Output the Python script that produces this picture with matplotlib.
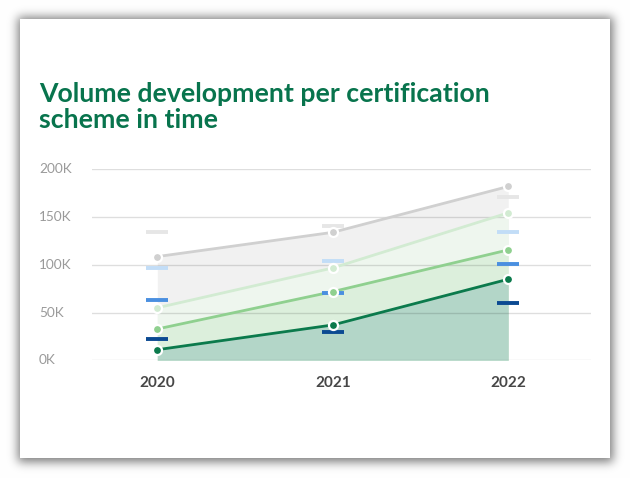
import math
import numpy as np
import matplotlib
matplotlib.use("Agg")
import matplotlib.pyplot as plt
from matplotlib import transforms
from matplotlib.patches import Rectangle

# ---------------- data ----------------
years = ["2020", "2021", "2022"]
series_gray = [108600, 134000, 182000]
series_lightgreen = [55000, 96700, 154400]
series_midgreen = [32800, 71900, 115600]
series_darkgreen = [11100, 37000, 84900]

marker_gray = [134000, 140400, 170900]
marker_lightblue = [96700, 103800, 134000]
marker_blue = [63500, 70200, 100600]
marker_darkblue = [22600, 29300, 59700]

y_ticks = [0, 50000, 100000, 150000, 200000]
y_tick_labels = ["0K", "50K", "100K", "150K", "200K"]
title = "Volume development per certification\nscheme in time"

# ---------------- figure ----------------
W, H = 630, 478
fig = plt.figure(figsize=(W / 100, H / 100), dpi=100)
fig.patch.set_facecolor("white")

# drop shadow of the card
bg = fig.add_axes([0, 0, 1, 1], zorder=-10)
bg.set_axis_off()
erf = np.vectorize(math.erf)
xs = np.arange(W) + 0.5
ys = np.arange(H) + 0.5
sig = 7.0
fx = 0.5 * (erf((xs - 18) / sig) - erf((xs - 613) / sig))
fy = 0.5 * (erf((ys - 17) / sig) - erf((ys - 462) / sig))
dark = 0.52 * np.outer(fy, fx)
img = np.dstack([1 - dark] * 3)
bg.imshow(img, extent=[0, W, H, 0], aspect="auto", interpolation="bilinear")
bg.set_xlim(0, W)
bg.set_ylim(H, 0)
bg.add_patch(Rectangle((20, 19), 590, 439, facecolor="white", edgecolor="none", zorder=5))

# title (baseline of last line)
fig.text(39 / W, 1 - 128 / H, title, ha="left", va="baseline", family="Lato",
         fontweight="bold", fontsize=19.2, color="#08744d", linespacing=1.08)

# chart axes
x0, x1 = 91.7, 590.7
yb, yt = 360.3, 169.3
ax = fig.add_axes([x0 / W, 1 - yb / H, (x1 - x0) / W, (yb - yt) / H])
ax.patch.set_alpha(0)
x = np.arange(len(years))
ax.set_xlim(-0.374, 2.47)
ax.set_ylim(0, 200000)

area_cols = ["#f1f1f1", "#eef6ee", "#dcefdc", "#b3d6c8"]
line_cols = ["#d0d0d0", "#d2ebd2", "#8fd08f", "#0b7a4c"]
series = [series_gray, series_lightgreen, series_midgreen, series_darkgreen]
for s, ac in zip(series, area_cols):
    ax.fill_between(x, 0, s, color=ac, lw=0, zorder=1)

for yv in y_ticks:
    ax.axhline(yv, color=(0, 0, 0, 0.13), lw=1.0, zorder=1.5)

for s, lc in zip(series, line_cols):
    ax.plot(x, s, color=lc, lw=2.0, zorder=3, solid_capstyle="round")

mk_cols = ["#e6e6e6", "#c2ddf7", "#4a8fe0", "#0b4a92"]
for m, mc in zip([marker_gray, marker_lightblue, marker_blue, marker_darkblue], mk_cols):
    ax.plot(x, m, ls="none", marker="_", markersize=15.5, markeredgewidth=2.8,
            color=mc, zorder=4, clip_on=False)

for s, lc in zip(series, line_cols):
    ax.plot(x, s, ls="none", marker="o", markersize=6.5, markerfacecolor=lc,
            markeredgecolor="white", markeredgewidth=1.6, zorder=5, clip_on=False)

for sp in ax.spines.values():
    sp.set_visible(False)
ax.set_xticks(x)
ax.set_xticklabels(years, family="Lato", fontweight="bold", fontsize=11, color="#474747")
ax.tick_params(axis="x", length=0, pad=11)
ax.set_yticks([])

trans = transforms.blended_transform_factory(fig.transFigure, ax.transData)
for yv, lab in zip(y_ticks, y_tick_labels):
    ax.text(39 / W, yv, lab, transform=trans, ha="left", va="center",
            family="Lato", fontsize=9.8, color="#9a9a9a")

fig.savefig("out.png", dpi=100)
